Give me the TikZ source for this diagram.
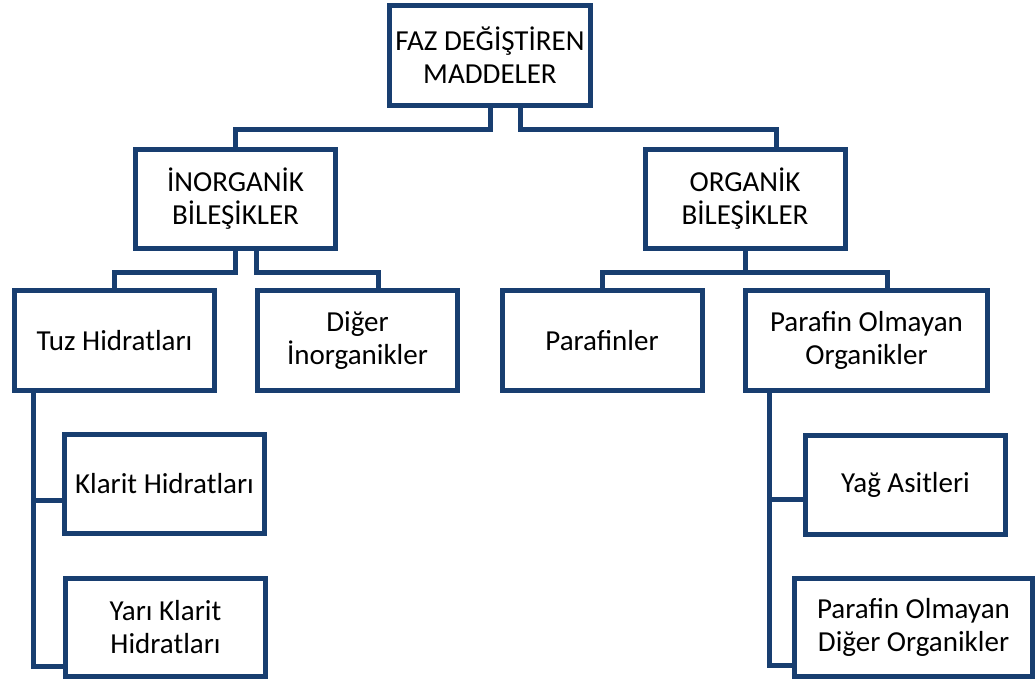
\documentclass[tikz,border=0pt]{standalone}
\usepackage{fontspec}
\setmainfont{Carlito}
\definecolor{navy}{RGB}{24,62,112}
\begin{document}
\begin{tikzpicture}[x=1pt,y=-1pt,
  box/.style={draw=navy,line width=5pt,rectangle,inner sep=0pt,
    minimum width=200pt,minimum height=99pt,align=center,
    font=\fontsize{29}{33}\selectfont,text=black},
  conn/.style={draw=navy,line width=5pt}]
\useasboundingbox (0,0) rectangle (1035,684);
\node[box,minimum width=201pt,minimum height=100pt] (top) at (490,55.5) {FAZ DEĞİŞTİREN\\MADDELER};
\node[box] (inorg) at (235.5,199) {İNORGANİK\\BİLEŞİKLER};
\node[box] (org) at (745,199) {ORGANİK\\BİLEŞİKLER};
\node[box] (tuz) at (114.5,340.5) {Tuz Hidratları};
\node[box] (diger) at (357.5,340.5) {Diğer\\İnorganikler};
\node[box] (paraf) at (602,340.5) {Parafinler};
\node[box,minimum width=242pt] (pom) at (866.5,340.5) {Parafin Olmayan\\Organikler};
\node[box] (klarit) at (164.5,484) {Klarit Hidratları};
\node[box,minimum height=98pt] (yari) at (165.5,627.5) {Yarı Klarit\\Hidratları};
\node[box] (yag) at (905.5,484.5) {Yağ Asitleri};
\node[box,minimum width=238pt,minimum height=98pt] (pomd) at (913.5,627.5) {Parafin Olmayan\\Diğer Organikler};
\coordinate (m1) at (0,130);
\coordinate (m2) at (0,273);
\coordinate (tl) at (33.5,0);
\coordinate (tr) at (769,0);
% level 1
\draw[conn] (top.south) -- (top.south |- m1) -| (inorg.north);
\draw[conn] ([xshift=30.5pt]top.south) -- ([xshift=30.5pt]top.south |- m1) -| ([xshift=31pt]org.north);
% level 2 left
\draw[conn] (inorg.south) -- (inorg.south |- m2) -| (tuz.north);
\draw[conn] ([xshift=21pt]inorg.south) -- ([xshift=21pt]inorg.south |- m2) -| ([xshift=21pt]diger.north);
% level 2 right
\draw[conn] (org.south) -- (org.south |- m2) -| (paraf.north);
\draw[conn] (org.south) -- (org.south |- m2) -| ([xshift=20.5pt]pom.north);
% level 3
\draw[conn] (tuz.south -| tl) |- ([yshift=-16.5pt]klarit.west);
\draw[conn] (tuz.south -| tl) |- ([yshift=-39pt]yari.west);
\draw[conn] (pom.south -| tr) |- ([yshift=-14.5pt]yag.west);
\draw[conn] (pom.south -| tr) |- ([yshift=-38pt]pomd.west);
\end{tikzpicture}
\end{document}
